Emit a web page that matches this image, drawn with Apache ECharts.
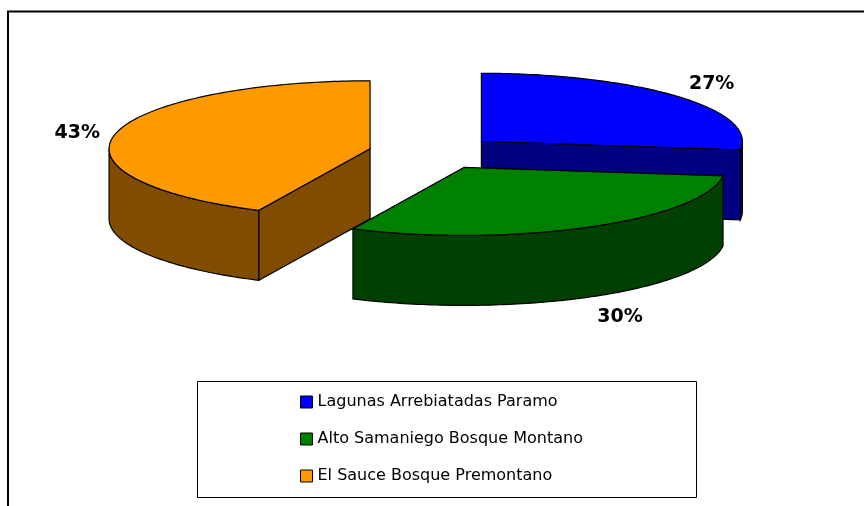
<!DOCTYPE html>
<html>
<head>
<meta charset="utf-8">
<script src="https://cdn.jsdelivr.net/npm/echarts@6/dist/echarts.min.js"></script>
<style>
  html, body { margin: 0; padding: 0; background: #fff; }
  #container { width: 864px; height: 506px; }
</style>
</head>
<body>
<div id="container"></div>
<script>
const categories = [
  "Lagunas Arrebiatadas Paramo",
  "Alto Samaniego Bosque Montano",
  "El Sauce Bosque Premontano",
];
const values = [27, 30, 43];
const topColors = ["#0000FF", "#008000", "#FF9900"];
const sideColors = ["#000080", "#004000", "#804C00"];

// 3d pie layout (px)
const pie = { cx: 433, cy: 152.5, rx: 261, ry: 68, depth: 70, explode: 0.25, labelScale: 1.06 };

const total = values.reduce((a, b) => a + b, 0);
const startAngles = [];
let acc = 0;
values.forEach((v) => {
  startAngles.push((acc / total) * 360);
  acc += v;
});

const rad = (d) => (d * Math.PI) / 180;
// angle measured clockwise from 12 o'clock
const pt = (c, deg, k = 1) => [
  c[0] + k * pie.rx * Math.sin(rad(deg)),
  c[1] - k * pie.ry * Math.cos(rad(deg)),
];
const arc = (c, a, b) => {
  const pts = [];
  const n = Math.max(2, Math.ceil(b - a));
  for (let j = 0; j <= n; j++) pts.push(pt(c, a + ((b - a) * j) / n));
  return pts;
};
const down = (p) => [p[0], p[1] + pie.depth];
const poly = (points, fill) => ({
  type: "polygon",
  shape: { points },
  style: { fill, stroke: "#000", lineWidth: 1.2 },
});

const renderSlice = (i) => () => {
  const a = startAngles[i];
  const b = a + (values[i] / total) * 360;
  const mid = (a + b) / 2;
  const c = [
    pie.cx + pie.explode * 258 * Math.sin(rad(mid)),
    pie.cy - pie.explode * pie.ry * Math.cos(rad(mid)),
  ];
  const children = [];

  // front part of the outer wall
  const wa = Math.max(a, 90);
  const wb = Math.min(b, 270);
  if (wb > wa) {
    const top = arc(c, wa, wb);
    children.push(poly(top.concat(top.map(down).reverse()), sideColors[i]));
  }
  // cut faces that look towards the viewer
  if (Math.sin(rad(a)) < -1e-6) {
    const p = pt(c, a);
    children.push(poly([c, p, down(p), down(c)], sideColors[i]));
  }
  if (Math.sin(rad(b)) > 1e-6) {
    const p = pt(c, b);
    children.push(poly([c, p, down(p), down(c)], sideColors[i]));
  }
  // top face
  children.push(poly([c].concat(arc(c, a, b)), topColors[i]));

  // percentage label
  const s = Math.sin(rad(mid));
  const co = Math.cos(rad(mid));
  const lp = pt(c, mid, pie.labelScale);
  if (co < 0) lp[1] += pie.depth + 7;
  children.push({
    type: "text",
    x: lp[0],
    y: lp[1],
    style: {
      text: Math.round((values[i] / total) * 100) + "%",
      font: 'bold 19px "DejaVu Sans"',
      fill: "#000",
      align: s > 0.3 ? "left" : s < -0.3 ? "right" : "center",
      verticalAlign: co > 0.3 ? "bottom" : co < -0.3 ? "top" : "middle",
    },
  });
  return { type: "group", children };
};

// back slices first, front slice last
const drawOrder = [0, 2, 1];

const dom = document.getElementById("container");
const myChart = echarts.init(dom);

const option = {
  animation: false,
  backgroundColor: "#FFFFFF",
  legend: {
    data: categories,
    orient: "vertical",
    left: 300,
    top: 394,
    padding: 0,
    itemWidth: 12,
    itemHeight: 12,
    itemGap: 21,
    icon: "rect",
    selectedMode: false,
    itemStyle: { borderColor: "#000", borderWidth: 1 },
    textStyle: {
      fontFamily: "DejaVu Sans",
      fontSize: 16,
      lineHeight: 16,
      color: "#000",
    },
  },
  graphic: [
    {
      type: "rect",
      shape: { x: 8, y: 11.5, width: 900, height: 600 },
      style: { fill: "transparent", stroke: "#000", lineWidth: 2 },
    },
    {
      type: "rect",
      shape: { x: 197.5, y: 381.5, width: 499, height: 116 },
      style: { fill: "transparent", stroke: "#000", lineWidth: 1 },
    },
  ],
  series: drawOrder.map((i) => ({
    type: "custom",
    name: categories[i],
    coordinateSystem: "none",
    silent: true,
    z: 2 + drawOrder.indexOf(i),
    itemStyle: { color: topColors[i] },
    renderItem: renderSlice(i),
    data: [values[i]],
  })),
};

myChart.setOption(option);
</script>
</body>
</html>
